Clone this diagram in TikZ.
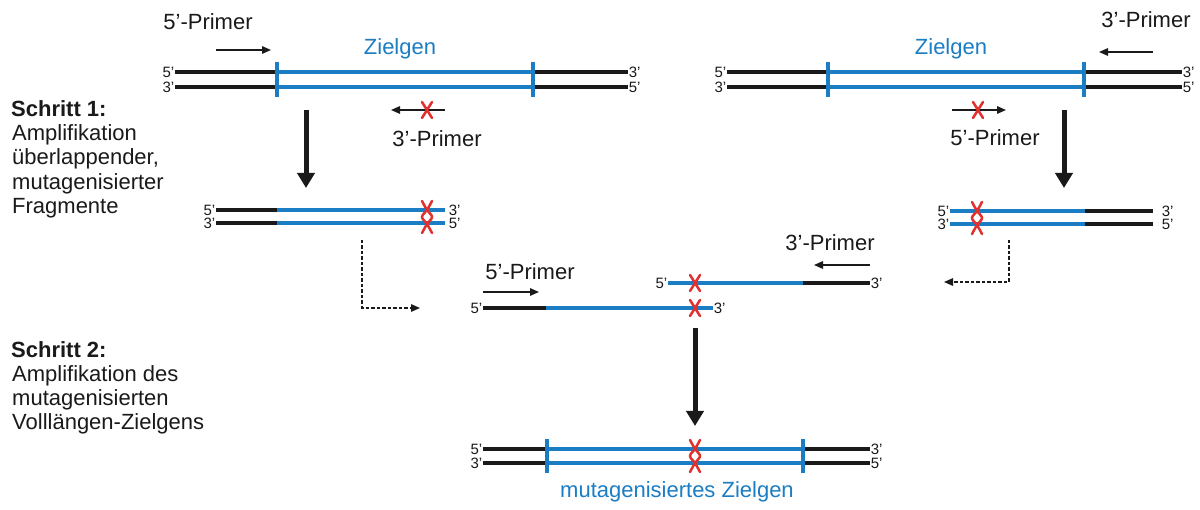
\documentclass[tikz,border=0pt]{standalone}
\usepackage{fontspec}
\setmainfont{Liberation Sans}
\usetikzlibrary{arrows.meta}

\definecolor{gene}{HTML}{1B7DC4}
\definecolor{mut}{HTML}{E0312F}
\definecolor{dna}{HTML}{1A1A1A}

\tikzset{
  x=1pt, y=-1pt,
  dnaline/.style={line width=3.8pt, draw=dna},
  geneline/.style={line width=3.8pt, draw=gene},
  genetick/.style={line width=3.8pt, draw=gene},
  endlbl/.style={font=\fontsize{15}{15}\selectfont, inner sep=0.6pt, text=dna},
  primer/.style={line width=1.4pt, draw=dna, -{Triangle[length=9pt,width=7.5pt]}},
  bigarrow/.style={line width=5pt, draw=dna, -{Triangle[length=15pt,width=17pt]}},
  dasharrow/.style={line width=1.4pt, draw=dna, dash pattern=on 3.5pt off 2pt, -{Triangle[length=9pt,width=7.5pt]}},
  lbl/.style={font=\fontsize{22}{26}\selectfont, text=dna, anchor=base, inner sep=0pt},
  genelbl/.style={font=\fontsize{22}{26}\selectfont, text=gene, anchor=base, inner sep=0pt},
  stagetxt/.style={font=\fontsize{22}{26}\selectfont, text=dna, anchor=base west, inner sep=0pt},
  mutx/.style={line width=2.5pt, draw=mut, line cap=round},
  pics/mutone/.style={code={
    \draw[mutx] (-5,-8) -- (5,8) (5,-8) -- (-5,8);
  }},
  pics/mutpair/.style={code={
    \draw[mutx] plot[smooth, tension=0.6] coordinates {(-5,-9) (0,0) (5,7) (0,14) (-5,23)};
    \draw[mutx] plot[smooth, tension=0.6] coordinates {(5,-9) (0,0) (-5,7) (0,14) (5,23)};
  }},
}

\begin{document}
\begin{tikzpicture}
\useasboundingbox[fill=white] (0,0) rectangle (1200,510);

% ---------- step labels ----------
\node[stagetxt, font=\fontsize{22}{26}\selectfont\bfseries] (s1) at (11,117) {Schritt 1:};
\node[stagetxt] (s1a) at (12,141) {Amplifikation};
\node[stagetxt] (s1b) at (12,165) {überlappender,};
\node[stagetxt] (s1c) at (12,190) {mutagenisierter};
\node[stagetxt] (s1d) at (12,214) {Fragmente};

\node[stagetxt, font=\fontsize{22}{26}\selectfont\bfseries] (s2) at (11,358) {Schritt 2:};
\node[stagetxt] (s2a) at (12,382) {Amplifikation des};
\node[stagetxt] (s2b) at (12,406) {mutagenisierten};
\node[stagetxt] (s2c) at (12,430) {Volllängen-Zielgens};

% ---------- template, left reaction ----------
\coordinate (tl1a) at (175,72);  \coordinate (tl1b) at (628,72);
\coordinate (tl2a) at (175,87);  \coordinate (tl2b) at (628,87);
\draw[dnaline] (tl1a) -- (tl1b);
\draw[dnaline] (tl2a) -- (tl2b);
\draw[geneline] (277,72) -- (533,72);
\draw[geneline] (277,87) -- (533,87);
\draw[genetick] (277,62) -- (277,97);
\draw[genetick] (533,62) -- (533,97);
\node[endlbl, anchor=east] (tl5) at (tl1a) {5’};
\node[endlbl, anchor=east] (tl3) at (tl2a) {3’};
\node[endlbl, anchor=west] (tr3) at (tl1b) {3’};
\node[endlbl, anchor=west] (tr5) at (tl2b) {5’};
\node[genelbl] (zl) at (400,55) {Zielgen};

\node[lbl] (p5l) at (208,30) {5’-Primer};
\coordinate (p5la) at (216,50); \coordinate (p5lb) at (271,50);
\draw[primer] (p5la) -- (p5lb);

\coordinate (p3la) at (445,110); \coordinate (p3lb) at (391,110);
\draw[primer] (p3la) -- (p3lb);
\pic at (427,110) {mutone};
\node[lbl] (p3l) at (437,147) {3’-Primer};

% ---------- template, right reaction ----------
\coordinate (tr1a) at (727,72);  \coordinate (tr1b) at (1182,72);
\coordinate (tr2a) at (727,87);  \coordinate (tr2b) at (1182,87);
\draw[dnaline] (tr1a) -- (tr1b);
\draw[dnaline] (tr2a) -- (tr2b);
\draw[geneline] (828,72) -- (1084,72);
\draw[geneline] (828,87) -- (1084,87);
\draw[genetick] (828,62) -- (828,97);
\draw[genetick] (1084,62) -- (1084,97);
\node[endlbl, anchor=east] at (tr1a) {5’};
\node[endlbl, anchor=east] at (tr2a) {3’};
\node[endlbl, anchor=west] at (tr1b) {3’};
\node[endlbl, anchor=west] at (tr2b) {5’};
\node[genelbl] (zr) at (951,55) {Zielgen};

\node[lbl] (p3r) at (1146,28) {3’-Primer};
\coordinate (p3ra) at (1153,52); \coordinate (p3rb) at (1099,52);
\draw[primer] (p3ra) -- (p3rb);

\coordinate (p5ra) at (952,110); \coordinate (p5rb) at (1006,110);
\draw[primer] (p5ra) -- (p5rb);
\pic at (978,110) {mutone};
\node[lbl] (p5r) at (995,146) {5’-Primer};

% ---------- step 1 arrows ----------
\coordinate (al1) at (306,110); \coordinate (al2) at (306,188);
\draw[bigarrow] (al1) -- (al2);
\coordinate (ar1) at (1064,110); \coordinate (ar2) at (1064,188);
\draw[bigarrow] (ar1) -- (ar2);

% ---------- left fragment ----------
\coordinate (fl1a) at (216,210); \coordinate (fl1b) at (445,210);
\coordinate (fl2a) at (216,223); \coordinate (fl2b) at (445,223);
\draw[dnaline] (fl1a) -- (277,210);
\draw[dnaline] (fl2a) -- (277,223);
\draw[geneline] (277,210) -- (fl1b);
\draw[geneline] (277,223) -- (fl2b);
\pic at (427,210) {mutpair};
\node[endlbl, anchor=east] at (fl1a) {5’};
\node[endlbl, anchor=east] at (fl2a) {3’};
\node[endlbl, anchor=west] at ([xshift=3pt]fl1b) {3’};
\node[endlbl, anchor=west] at ([xshift=3pt]fl2b) {5’};

% ---------- right fragment ----------
\coordinate (fr1a) at (950,211); \coordinate (fr1b) at (1153,211);
\coordinate (fr2a) at (950,224); \coordinate (fr2b) at (1153,224);
\draw[geneline] (fr1a) -- (1085,211);
\draw[geneline] (fr2a) -- (1085,224);
\draw[dnaline] (1085,211) -- (fr1b);
\draw[dnaline] (1085,224) -- (fr2b);
\pic at (977,211) {mutpair};
\node[endlbl, anchor=east] at (fr1a) {5’};
\node[endlbl, anchor=east] at (fr2a) {3’};
\node[endlbl, anchor=west] at ([xshift=8pt]fr1b) {3’};
\node[endlbl, anchor=west] at ([xshift=8pt]fr2b) {5’};

% ---------- dashed transfer arrows ----------
\coordinate (dl1) at (362,240); \coordinate (dl2) at (420,308);
\draw[dasharrow] (dl1) |- (dl2);
\coordinate (dr1) at (1009,240); \coordinate (dr2) at (944,282);
\draw[dasharrow] (dr1) |- (dr2);

% ---------- overlapping single strands ----------
\coordinate (su1) at (668,283); \coordinate (su2) at (870,283);
\draw[geneline] (su1) -- (803,283);
\draw[dnaline] (803,283) -- (su2);
\pic at (695,283) {mutone};
\node[endlbl, anchor=east] at (su1) {5’};
\node[endlbl, anchor=west] at (su2) {3’};

\coordinate (sl1) at (483,308); \coordinate (sl2) at (713,308);
\draw[dnaline] (sl1) -- (546,308);
\draw[geneline] (546,308) -- (sl2);
\pic at (695,308) {mutone};
\node[endlbl, anchor=east] at (sl1) {5’};
\node[endlbl, anchor=west] at (sl2) {3’};

\node[lbl] (p5c) at (530,280) {5’-Primer};
\coordinate (p5ca) at (483,292); \coordinate (p5cb) at (539,292);
\draw[primer] (p5ca) -- (p5cb);
\node[lbl] (p3c) at (830,251) {3’-Primer};
\coordinate (p3ca) at (870,265); \coordinate (p3cb) at (814,265);
\draw[primer] (p3ca) -- (p3cb);

% ---------- step 2 arrow ----------
\coordinate (ac1) at (695,328); \coordinate (ac2) at (695,426);
\draw[bigarrow] (ac1) -- (ac2);

% ---------- mutagenised full-length gene ----------
\coordinate (fb1a) at (483,449); \coordinate (fb1b) at (870,449);
\coordinate (fb2a) at (483,463); \coordinate (fb2b) at (870,463);
\draw[dnaline] (fb1a) -- (fb1b);
\draw[dnaline] (fb2a) -- (fb2b);
\draw[geneline] (547,449) -- (803,449);
\draw[geneline] (547,463) -- (803,463);
\draw[genetick] (547,439) -- (547,473);
\draw[genetick] (803,439) -- (803,473);
\pic at (695,449) {mutpair};
\node[endlbl, anchor=east] at (fb1a) {5’};
\node[endlbl, anchor=east] at (fb2a) {3’};
\node[endlbl, anchor=west] at (fb1b) {3’};
\node[endlbl, anchor=west] at (fb2b) {5’};
\node[genelbl] (zm) at (677,497) {mutagenisiertes Zielgen};
\end{tikzpicture}
\end{document}
